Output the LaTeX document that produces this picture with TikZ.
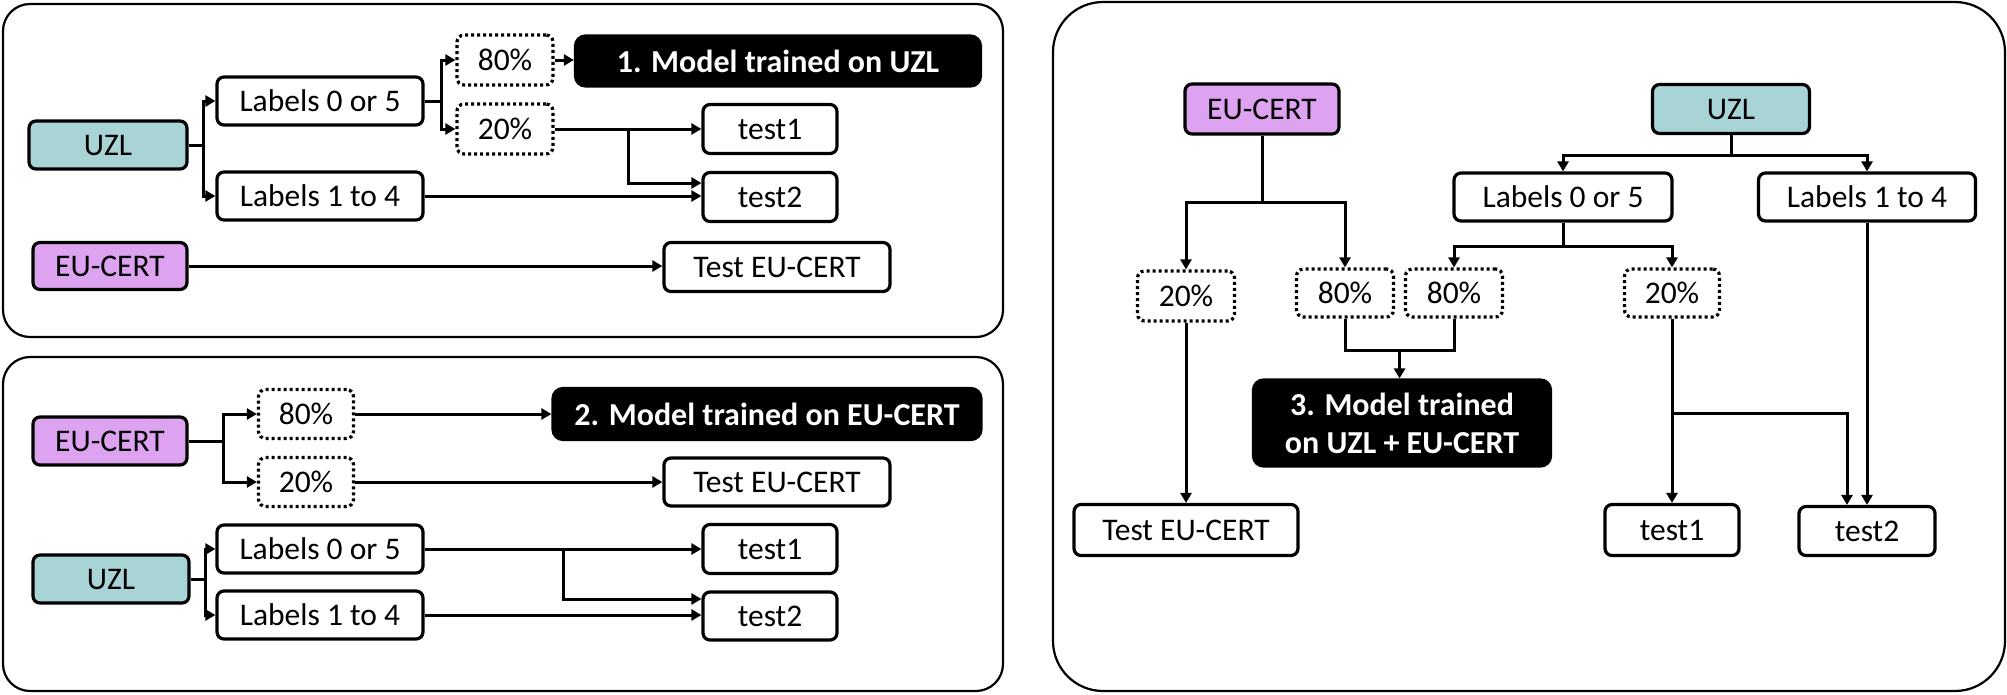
\documentclass[tikz,border=0pt]{standalone}
\usepackage{fontspec}
\setmainfont{Carlito}
\usetikzlibrary{arrows.meta,calc}
\definecolor{tealbox}{RGB}{168,212,214}
\definecolor{purpbox}{RGB}{221,162,240}
\tikzset{
  panel/.style={draw, line width=2.2pt},
  bx/.style={draw, line width=3.2pt, rounded corners=7pt, inner sep=0pt, fill=white,
    font=\fontsize{31.5}{38}\selectfont, anchor=center},
  one/.style={text height=20.3pt, text depth=0pt},
  wbox/.style={bx, one},
  tbox/.style={bx, one, fill=tealbox},
  pbox/.style={bx, one, fill=purpbox},
  dbox/.style={bx, one, dash pattern=on 3pt off 3pt},
  kbox/.style={bx, fill=black, text=white, rounded corners=10pt, font=\fontsize{32}{38}\selectfont\bfseries},
  arr/.style={draw, line width=3pt, -{Triangle[length=10pt,width=11pt]}},
  ln/.style={draw, line width=3pt}
}
\begin{document}
\begin{tikzpicture}[x=1pt,y=-1pt]
\useasboundingbox (0,0) rectangle (2007,694);
% panels
\draw[panel, rounded corners=27pt] (3,4) rectangle (1003,337);
\draw[panel, rounded corners=27pt] (3,357) rectangle (1003,691);
\draw[panel, rounded corners=50pt] (1053,2) rectangle (2005,691);

% ---------- Panel 1 ----------
\node[tbox, minimum width=158pt, minimum height=48pt] (uzlA) at (108,145) {UZL};
\node[wbox, minimum width=206pt, minimum height=48pt] (labA5) at (320,101) {Labels 0 or 5};
\node[wbox, minimum width=206pt, minimum height=48pt] (labA4) at (320,196) {Labels 1 to 4};
\node[pbox, minimum width=154pt, minimum height=47pt] (euA) at (110,266) {EU-CERT};
\node[dbox, minimum width=96pt, minimum height=50pt] (pA80) at (505,60) {80\%};
\node[dbox, minimum width=96pt, minimum height=50pt] (pA20) at (505,129) {20\%};
\node[kbox, minimum width=405pt, minimum height=50pt, text height=22pt, text depth=0pt] (modA) at (778,61) {1. Model trained on UZL};
\node[wbox, minimum width=134pt, minimum height=49pt] (tA1) at (770,129) {test1};
\node[wbox, minimum width=134pt, minimum height=49pt] (tA2) at (770,197) {test2};
\node[wbox, minimum width=226pt, minimum height=49pt] (teuA) at (777,267) {Test EU-CERT};

\draw[arr] (uzlA.east) -- ++(15,0) |- (labA5.west);
\draw[arr] (uzlA.east) -- ++(15,0) |- (labA4.west);
\draw[arr] (labA5.east) -- ++(17,0) |- (pA80.west);
\draw[arr] (labA5.east) -- ++(17,0) |- (pA20.west);
\draw[arr] (pA80.east) -- (pA80.east -| modA.west);
\draw[arr] (pA20.east) -- (pA20.east -| tA1.west);
\coordinate (jA) at ($(pA20.east)+(74,0)$);
\draw[arr] (jA) |- ([yshift=14pt]tA2.west);
\draw[arr] (labA4.east) -- (labA4.east -| tA2.west);
\draw[arr] (euA.east) -- (euA.east -| teuA.west);

% ---------- Panel 2 ----------
\node[pbox, minimum width=154pt, minimum height=48pt] (euB) at (110,441) {EU-CERT};
\node[dbox, minimum width=95pt, minimum height=49pt] (pB80) at (306,414) {80\%};
\node[dbox, minimum width=95pt, minimum height=49pt] (pB20) at (306,482) {20\%};
\node[tbox, minimum width=156pt, minimum height=48pt] (uzlB) at (111,579) {UZL};
\node[wbox, minimum width=206pt, minimum height=48pt] (labB5) at (320,549) {Labels 0 or 5};
\node[wbox, minimum width=206pt, minimum height=48pt] (labB4) at (320,615) {Labels 1 to 4};
\node[kbox, minimum width=428pt, minimum height=51pt, text height=22pt, text depth=0pt] (modB) at (767,414) {2. Model trained on EU-CERT};
\node[wbox, minimum width=226pt, minimum height=48pt] (teuB) at (777,482) {Test EU-CERT};
\node[wbox, minimum width=134pt, minimum height=49pt] (tB1) at (770,549) {test1};
\node[wbox, minimum width=134pt, minimum height=48pt] (tB2) at (770,616) {test2};

\draw[arr] (euB.east) -- ++(35,0) |- (pB80.west);
\draw[arr] (euB.east) -- ++(35,0) |- (pB20.west);
\draw[arr] (uzlB.east) -- ++(15,0) |- (labB5.west);
\draw[arr] (uzlB.east) -- ++(15,0) |- (labB4.west);
\draw[arr] (pB80.east) -- (pB80.east -| modB.west);
\draw[arr] (pB20.east) -- (pB20.east -| teuB.west);
\draw[arr] (labB5.east) -- (labB5.east -| tB1.west);
\coordinate (jB) at ($(labB5.east)+(139,0)$);
\draw[arr] (jB) |- ([yshift=17pt]tB2.west);
\draw[arr] (labB4.east) -- (labB4.east -| tB2.west);

% ---------- Panel 3 ----------
\node[pbox, minimum width=154pt, minimum height=50pt] (euC) at (1262,109) {EU-CERT};
\node[tbox, minimum width=157pt, minimum height=49pt] (uzlC) at (1731,109) {UZL};
\node[dbox, minimum width=97pt, minimum height=50pt] (pC20a) at (1186,296) {20\%};
\node[dbox, minimum width=97pt, minimum height=48pt] (pC80a) at (1345,293) {80\%};
\node[dbox, minimum width=97pt, minimum height=48pt] (pC80b) at (1454,293) {80\%};
\node[wbox, minimum width=218pt, minimum height=48pt] (labC5) at (1563,197) {Labels 0 or 5};
\node[wbox, minimum width=217pt, minimum height=48pt] (labC4) at (1867,197) {Labels 1 to 4};
\node[dbox, minimum width=95pt, minimum height=48pt] (pC20b) at (1672,293) {20\%};
\node[kbox, align=center, minimum width=297pt, minimum height=86pt] (modC) at (1402,423) {3. Model trained\\on UZL + EU-CERT};
\node[wbox, minimum width=224pt, minimum height=51pt] (teuC) at (1186,530) {Test EU-CERT};
\node[wbox, minimum width=134pt, minimum height=51pt] (tC1) at (1672,530) {test1};
\node[wbox, minimum width=136pt, minimum height=49pt] (tC2) at (1867,531) {test2};

\draw[arr] (euC.south) -- ++(0,67) -| (pC20a.north);
\draw[arr] (euC.south) -- ++(0,67) -| (pC80a.north);
\draw[arr] (uzlC.south) -- ++(0,20) -| (labC5.north);
\draw[arr] (uzlC.south) -- ++(0,20) -| (labC4.north);
\draw[arr] (labC5.south) -- ++(0,24) -| (pC80b.north);
\draw[arr] (labC5.south) -- ++(0,24) -| (pC20b.north);
\draw[ln] (pC80a.south) -- ++(0,32) -| (pC80b.south);
\coordinate (jC) at ($(pC80a.south)!0.5!(pC80b.south)+(0,32)$);
\draw[arr] (jC) -- (jC |- modC.north);
\draw[arr] (pC20a.south) -- (pC20a.south |- teuC.north);
\draw[arr] (pC20b.south) -- (tC1.north);
\coordinate (kC) at ($(pC20b.south)+(0,95)$);
\draw[arr] (kC) -| ([xshift=-20pt]tC2.north);
\draw[arr] (labC4.south) -- (tC2.north);
\end{tikzpicture}
\end{document}
